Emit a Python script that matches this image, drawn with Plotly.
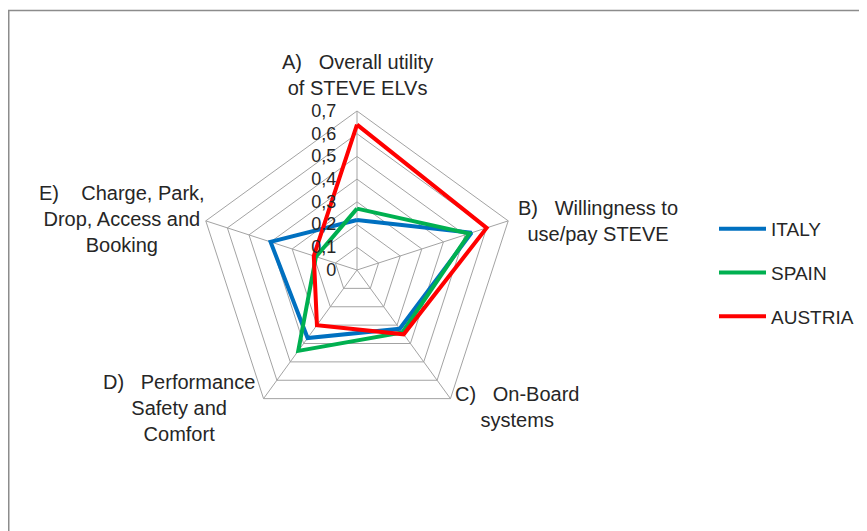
import plotly.graph_objects as go

categories = [
    "A)   Overall utility<br>of STEVE ELVs",
    "B)   Willingness to<br>use/pay STEVE",
    "C)   On-Board<br>systems",
    "D)   Performance<br>Safety and<br>Comfort",
    "E)    Charge, Park,<br>Drop, Access and<br>Booking",
]
series_names = ["ITALY", "SPAIN", "AUSTRIA"]
italy = [0.22, 0.53, 0.32, 0.37, 0.40]
spain = [0.27, 0.52, 0.34, 0.44, 0.19]
austria = [0.64, 0.60, 0.35, 0.30, 0.20]
radial_ticks = [0, 0.1, 0.2, 0.3, 0.4, 0.5, 0.6, 0.7]

colors = ["#0070C0", "#00B050", "#FF0000"]
theta_ids = ["A", "B", "C", "D", "E"]

fig = go.Figure()
for name, vals, col in zip(series_names, [italy, spain, austria], colors):
    fig.add_trace(go.Scatterpolar(
        r=vals + vals[:1],
        theta=theta_ids + theta_ids[:1],
        mode="lines",
        name=name,
        line=dict(color=col, width=4),
        legendgroup=name,
    ))

W, H = 867, 531
OFF = 8  # page body margin offset
cx, cy, R = 357 - OFF, 270 - OFF, 159
font_family = "Liberation Sans, Arial, sans-serif"
txt_color = "#262626"

fig.update_layout(
    width=W, height=H,
    margin=dict(l=0, r=0, t=0, b=0),
    paper_bgcolor="white",
    separators=",.",
    font=dict(family=font_family, size=18, color=txt_color),
    polar=dict(
        domain=dict(x=[(cx - R) / W, (cx + R) / W], y=[1 - (cy + R) / H, 1 - (cy - R) / H]),
        bgcolor="white",
        gridshape="linear",
        angularaxis=dict(
            direction="clockwise", rotation=90,
            showticklabels=False, ticks="",
            gridcolor="#A3A3A3", gridwidth=1,
            linecolor="#A3A3A3", linewidth=1, showline=True,
        ),
        radialaxis=dict(
            range=[0, 0.7], tickvals=radial_ticks,
            angle=90, side="counterclockwise",
            showline=False, ticks="outside", ticklen=14,
            tickcolor="rgba(0,0,0,0)",
            gridcolor="#A3A3A3", gridwidth=1,
            tickfont=dict(size=18, color=txt_color, family=font_family),
            tickangle=90,
        ),
    ),
    legend=dict(
        x=706 / W, y=1 - 202 / H, xanchor="left", yanchor="top",
        font=dict(size=19, color=txt_color, family=font_family),
        tracegroupgap=16, itemwidth=47,
        bgcolor="rgba(0,0,0,0)",
    ),
    showlegend=True,
)

label_pos = [(357, 75), (598, 221), (517, 407), (179, 408), (122, 219)]
for text, (lx, ly) in zip(categories, label_pos):
    fig.add_annotation(
        text=text, x=(lx - OFF) / W, y=1 - (ly - OFF) / H, xref="paper", yref="paper",
        showarrow=False, align="center", xanchor="center", yanchor="middle",
        font=dict(size=20, color=txt_color, family=font_family),
    )

fig.add_shape(type="rect", xref="paper", yref="paper",
              x0=0.75 / W, x1=1.05, y0=-0.05, y1=1 - 2.5 / H,
              line=dict(color="#8C8C8C", width=1.5), layer="below")

fig.write_html("out.html")
